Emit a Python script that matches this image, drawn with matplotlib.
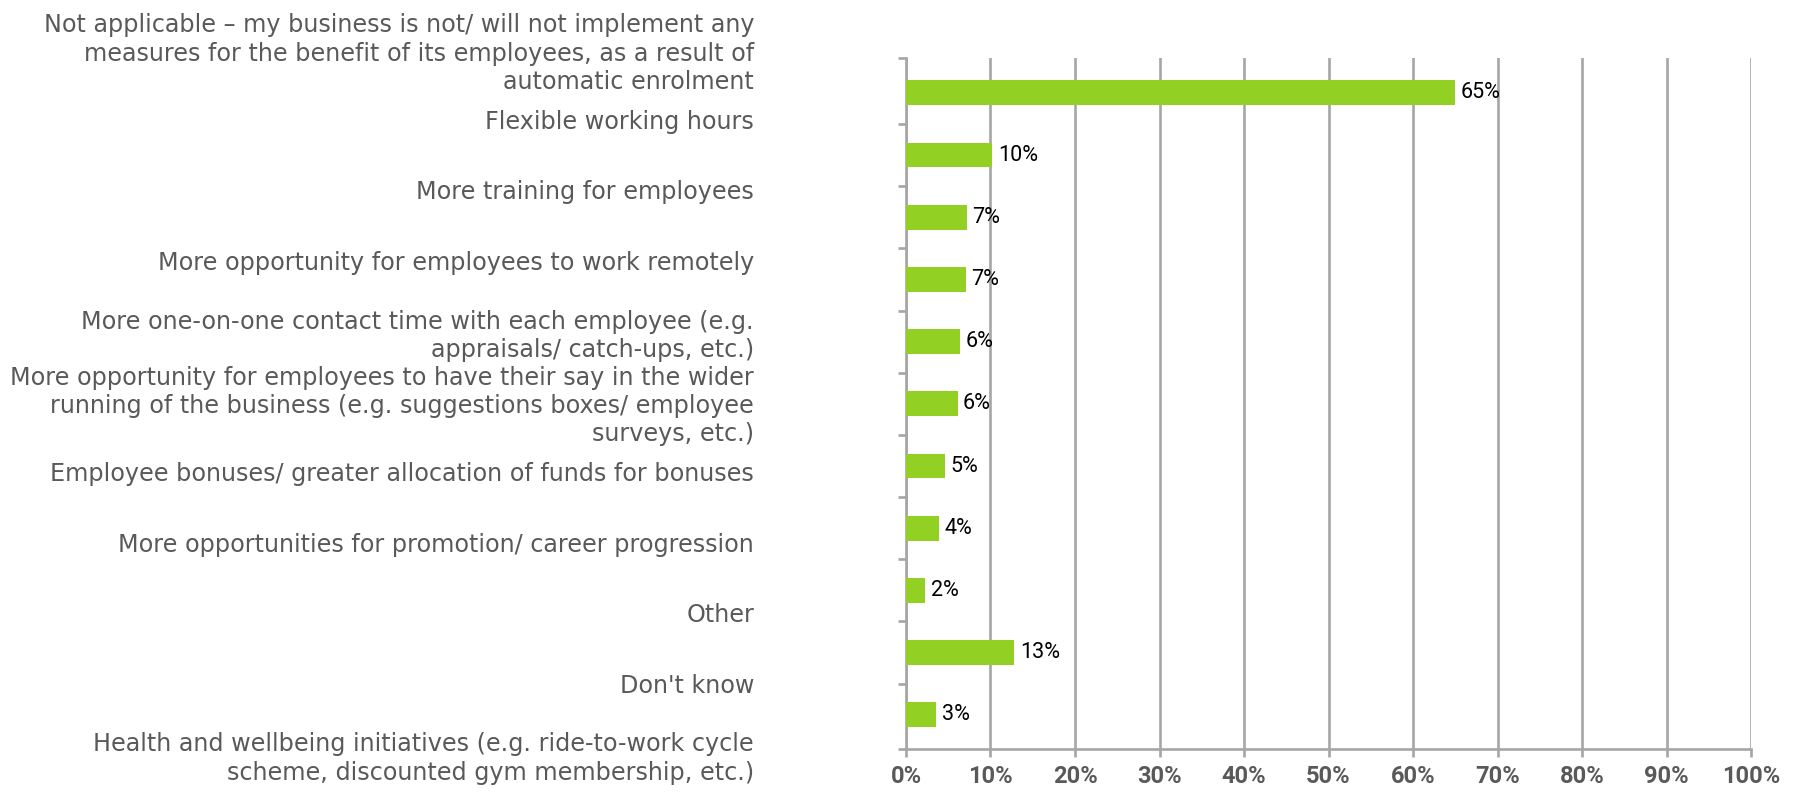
import matplotlib
matplotlib.use("Agg")
import matplotlib.pyplot as plt
import numpy as np

categories = [
    "Not applicable \u2013 my business is not/ will not implement any\nmeasures for the benefit of its employees, as a result of\nautomatic enrolment",
    "Flexible working hours",
    "More training for employees",
    "More opportunity for employees to work remotely",
    "More one-on-one contact time with each employee (e.g.\nappraisals/ catch-ups, etc.)",
    "More opportunity for employees to have their say in the wider\nrunning of the business (e.g. suggestions boxes/ employee\nsurveys, etc.)",
    "Employee bonuses/ greater allocation of funds for bonuses",
    "More opportunities for promotion/ career progression",
    "Other",
    "Don't know",
    "Health and wellbeing initiatives (e.g. ride-to-work cycle\nscheme, discounted gym membership, etc.)",
]
values = [65.0, 10.2, 7.2, 7.1, 6.4, 6.1, 4.6, 3.9, 2.3, 12.8, 3.6]
value_labels = ["65%", "10%", "7%", "7%", "6%", "6%", "5%", "4%", "2%", "13%", "3%"]
x_ticks = [0, 10, 20, 30, 40, 50, 60, 70, 80, 90, 100]
x_ticklabels = [f"{t}%" for t in x_ticks]

FONT = "Roboto"
CAT_FONT = "DejaVu Sans"
GRID = "#A6A6A6"
TXT = "#595959"
BAR = "#93D024"

W, H = 1800, 792
fig = plt.figure(figsize=(W / 100, H / 100), dpi=100)

# main plot axes (pixel geometry of the reference)
left, right, top, bottom = 906, 1751, 58, 749
ax = fig.add_axes([left / W, 1 - bottom / H, (right - left) / W, (bottom - top) / H])

n = len(categories)
ypos = np.arange(n)
ax.barh(ypos, values, height=0.40, color=BAR, zorder=3)
ax.set_xlim(0, 100)
y_lo, y_hi = -0.56, n - 1 + 0.55
ax.set_ylim(y_hi, y_lo)

for y, v, lab in zip(ypos, values, value_labels):
    ax.annotate(lab, (v, y), xytext=(4, 0), textcoords="offset points",
                va="center", ha="left", fontsize=15.5, color="black",
                family=FONT, zorder=4)

ax.set_xticks(x_ticks)
ax.set_xticklabels(x_ticklabels, fontsize=17, fontweight="bold", color=TXT, family=FONT)
ax.set_yticks([y_lo] + list(np.arange(0.5, n - 1, 1.0)) + [y_hi])
ax.set_yticklabels([])
ax.tick_params(axis="x", length=5.8, width=1.9, color=GRID, pad=6, direction="out")
ax.tick_params(axis="y", length=5.8, width=1.9, color=GRID, direction="out")
ax.xaxis.grid(True, color=GRID, linewidth=1.9, zorder=0)
ax.yaxis.grid(False)
ax.set_axisbelow(True)
for s in ["top", "right"]:
    ax.spines[s].set_visible(False)
for s in ["left", "bottom"]:
    ax.spines[s].set_color(GRID)
    ax.spines[s].set_linewidth(1.9)

# category label axes (labels are spaced on their own grid in the reference)
lab_top, lab_step, lab_right = 49, 70.5, 754
ytop = lab_top - lab_step / 2
ybot = lab_top + lab_step * (n - 1) + lab_step / 2
axl = fig.add_axes([lab_right / W, 1 - ybot / H, 0.001, (ybot - ytop) / H])
axl.set_ylim(n - 0.5, -0.5)
axl.set_yticks(ypos)
axl.set_yticklabels(categories, fontsize=17.2, color=TXT, family=CAT_FONT, linespacing=1.22)
axl.tick_params(axis="y", length=0, pad=0)
axl.set_xticks([])
for s in axl.spines.values():
    s.set_visible(False)
axl.patch.set_visible(False)

fig.savefig("out.png", dpi=100)
